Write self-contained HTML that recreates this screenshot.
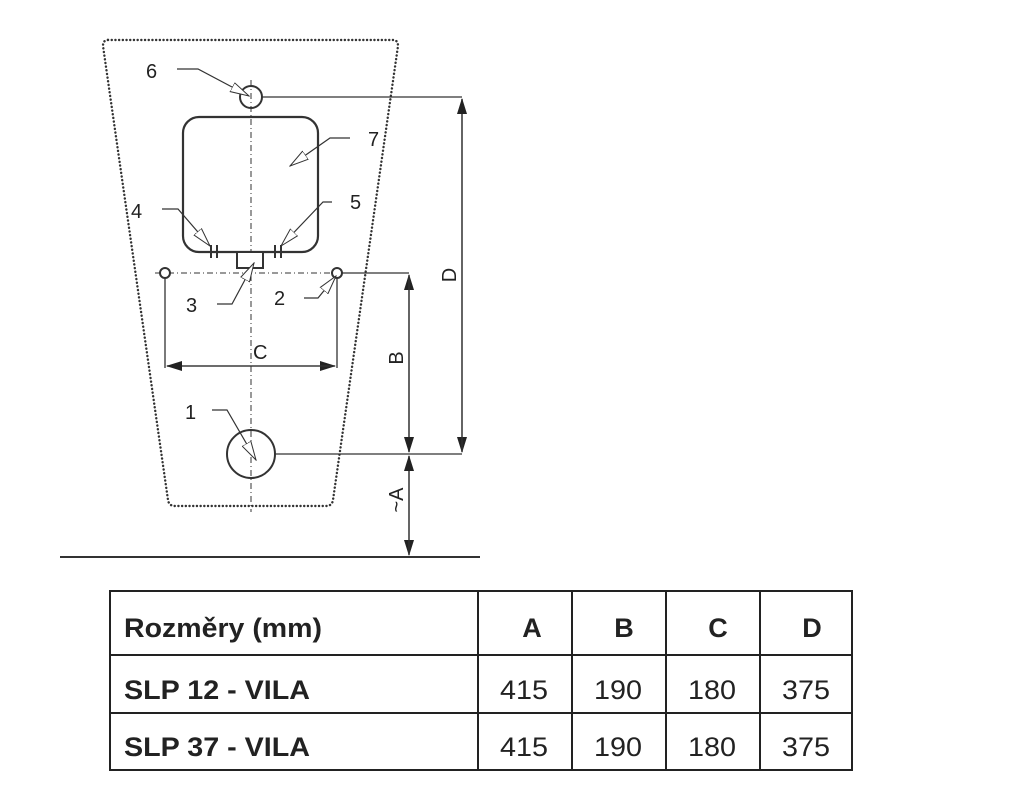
<!DOCTYPE html>
<html><head><meta charset="utf-8"><style>
html,body{margin:0;padding:0;background:#fff;}
svg{display:block;}
text{font-family:"Liberation Sans",sans-serif;fill:#222;}
</style></head><body>
<svg width="1024" height="797" viewBox="0 0 1024 797" xmlns="http://www.w3.org/2000/svg">
<defs>
<marker id="ar2" markerWidth="16" markerHeight="12" refX="15" refY="6" orient="auto" markerUnits="userSpaceOnUse"><path d="M0,1 L16,6 L0,11 Z" fill="#222"/></marker>
<marker id="op" markerWidth="20" markerHeight="12" refX="19" refY="6" orient="auto" markerUnits="userSpaceOnUse"><path d="M0,1 L19,6 L0,11 Z" fill="#fff" stroke="#333" stroke-width="1"/></marker>
</defs>
<g fill="none" stroke="#333">
<path d="M108,40 L393,40 Q398,40 398,46 L333,500 Q332,506 326,506 L175,506 Q169,506 168,500 L103,46 Q103,40 108,40 Z" stroke-width="2.4" stroke-dasharray="0.1 3.6" stroke-linecap="round"/>
<line x1="251" y1="80" x2="251" y2="512" stroke-width="1" stroke-dasharray="6 3 1 3"/>
<line x1="155" y1="273" x2="405" y2="273" stroke-width="1" stroke-dasharray="6 3 1 3"/>
<circle cx="251" cy="97" r="11" stroke-width="2"/>
<rect x="183" y="117" width="135" height="135" rx="16" stroke-width="2.2"/>
<rect x="237" y="252" width="26" height="16" stroke-width="2" fill="#fff"/>
<line x1="211" y1="245" x2="211" y2="258" stroke-width="2"/><line x1="217" y1="245" x2="217" y2="258" stroke-width="2"/>
<line x1="275" y1="245" x2="275" y2="258" stroke-width="2"/><line x1="281" y1="245" x2="281" y2="258" stroke-width="2"/>
<circle cx="165" cy="273" r="5" stroke-width="2" fill="#fff"/>
<circle cx="337" cy="273" r="5" stroke-width="2" fill="#fff"/>
<circle cx="251" cy="454" r="24" stroke-width="2"/>
<g stroke-width="1.3">
<line x1="262" y1="97" x2="462" y2="97"/>
<line x1="275" y1="454" x2="462" y2="454"/>
<line x1="342" y1="273" x2="409" y2="273"/>
<line x1="165" y1="278" x2="165" y2="368"/>
<line x1="337" y1="278" x2="337" y2="368"/>
<line x1="167" y1="366" x2="335" y2="366" marker-end="url(#ar2)"/>
<line x1="335" y1="366" x2="167" y2="366" marker-end="url(#ar2)"/>
<line x1="462" y1="99" x2="462" y2="452" marker-end="url(#ar2)"/>
<line x1="462" y1="452" x2="462" y2="99" marker-end="url(#ar2)"/>
<line x1="409" y1="452" x2="409" y2="275" marker-end="url(#ar2)"/>
<line x1="409" y1="275" x2="409" y2="452" marker-end="url(#ar2)"/>
<line x1="409" y1="456" x2="409" y2="555" marker-end="url(#ar2)"/>
<line x1="409" y1="555" x2="409" y2="456" marker-end="url(#ar2)"/>
</g>
<line x1="60" y1="557" x2="480" y2="557" stroke-width="2"/>
<g stroke-width="1.2">
<polyline points="177,69 198,69 249,96" marker-end="url(#op)"/>
<polyline points="350,138 330,138 290,166" marker-end="url(#op)"/>
<polyline points="162,209 178,209 210,246" marker-end="url(#op)"/>
<polyline points="332,202 323,202 281,246" marker-end="url(#op)"/>
<polyline points="217,304 232,304 254,263" marker-end="url(#op)"/>
<polyline points="304,298 318,298 336,276" marker-end="url(#op)"/>
<polyline points="212,410 227,410 256,460" marker-end="url(#op)"/>
</g>
</g>
<g font-size="20">
<text x="146" y="78">6</text>
<text x="368" y="146">7</text>
<text x="131" y="218">4</text>
<text x="350" y="209">5</text>
<text x="186" y="312">3</text>
<text x="274" y="305">2</text>
<text x="185" y="419">1</text>
<text x="253" y="359">C</text>
<text transform="translate(456,275) rotate(-90)" text-anchor="middle">D</text>
<text transform="translate(403,358) rotate(-90)" text-anchor="middle">B</text>
<text transform="translate(403,500) rotate(-90)" text-anchor="middle">~A</text>
</g>
<g fill="none" stroke="#222" stroke-width="2">
<rect x="110" y="591" width="742" height="179"/>
<line x1="110" y1="655" x2="852" y2="655"/>
<line x1="110" y1="713" x2="852" y2="713"/>
<line x1="478" y1="591" x2="478" y2="770"/>
<line x1="572" y1="591" x2="572" y2="770"/>
<line x1="666" y1="591" x2="666" y2="770"/>
<line x1="760" y1="591" x2="760" y2="770"/>
</g>
<g font-size="27">
<text x="124" y="637" font-weight="bold" textLength="198" lengthAdjust="spacingAndGlyphs">Rozměry (mm)</text>
<text x="124" y="699" font-weight="bold" textLength="186" lengthAdjust="spacingAndGlyphs">SLP 12 - VILA</text>
<text x="124" y="756" font-weight="bold" textLength="186" lengthAdjust="spacingAndGlyphs">SLP 37 - VILA</text>
<g font-weight="bold" text-anchor="middle">
<text x="532" y="637">A</text><text x="624" y="637">B</text><text x="718" y="637">C</text><text x="812" y="637">D</text>
</g>
<g text-anchor="middle">
<text x="524" y="699" textLength="48" lengthAdjust="spacingAndGlyphs">415</text>
<text x="618" y="699" textLength="48" lengthAdjust="spacingAndGlyphs">190</text>
<text x="712" y="699" textLength="48" lengthAdjust="spacingAndGlyphs">180</text>
<text x="806" y="699" textLength="48" lengthAdjust="spacingAndGlyphs">375</text>
<text x="524" y="756" textLength="48" lengthAdjust="spacingAndGlyphs">415</text>
<text x="618" y="756" textLength="48" lengthAdjust="spacingAndGlyphs">190</text>
<text x="712" y="756" textLength="48" lengthAdjust="spacingAndGlyphs">180</text>
<text x="806" y="756" textLength="48" lengthAdjust="spacingAndGlyphs">375</text>
</g>
</g>
</svg>
</body></html>
